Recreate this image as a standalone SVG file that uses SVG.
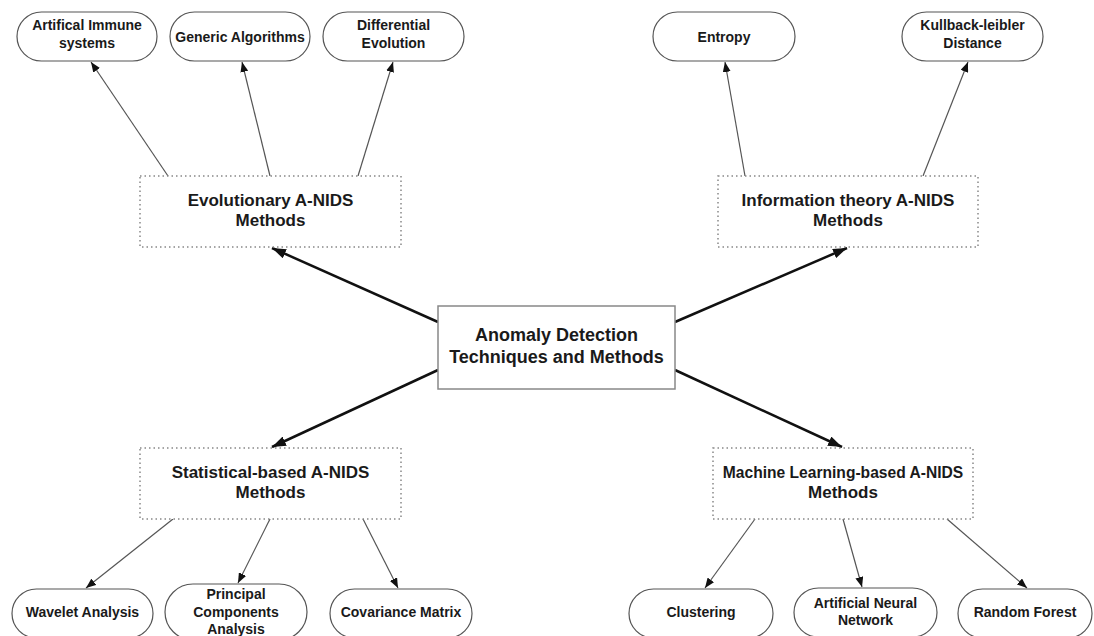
<svg xmlns="http://www.w3.org/2000/svg" width="1094" height="636" viewBox="0 0 1094 636">
<defs>
<style>
text{font-family:"Liberation Sans",Arial,sans-serif;font-weight:bold;fill:#1a1a1a;text-anchor:middle}
.t14{font-size:14px}
.t17{font-size:17px}
.t155{font-size:15.6px}
.t18{font-size:18px}
.pill{fill:#fff;stroke:#555;stroke-width:1.2}
.dot{fill:#fff;stroke:#888;stroke-width:1.5;stroke-dasharray:1.5 3}
.main{fill:#fff;stroke:#888;stroke-width:1.5}
.thick{stroke:#111;stroke-width:2.5;fill:none;marker-end:url(#ah)}
.thin{stroke:#555;stroke-width:1.2;fill:none;marker-end:url(#as)}
</style>
<marker id="ah" markerUnits="userSpaceOnUse" markerWidth="14" markerHeight="10" refX="14" refY="5" orient="auto"><path d="M0,0 L14,5 L0,10 z" fill="#111"/></marker>
<marker id="as" markerUnits="userSpaceOnUse" markerWidth="10" markerHeight="8" refX="10" refY="4" orient="auto"><path d="M0,0 L10,4 L0,8 z" fill="#111"/></marker>
</defs>
<rect width="1094" height="636" fill="#fff"/>
<g id="connectors">
<line class="thick" x1="438" y1="322" x2="272" y2="248"/>
<line class="thick" x1="675" y1="322" x2="847" y2="248"/>
<line class="thick" x1="438" y1="370" x2="272" y2="447"/>
<line class="thick" x1="675" y1="370" x2="842" y2="447"/>
<line class="thin" x1="168" y1="176" x2="91" y2="62"/>
<line class="thin" x1="270" y1="176" x2="242" y2="62"/>
<line class="thin" x1="358" y1="176" x2="393" y2="62"/>
<line class="thin" x1="745" y1="176" x2="725" y2="62"/>
<line class="thin" x1="923" y1="176" x2="968" y2="62"/>
<line class="thin" x1="173" y1="519" x2="86" y2="588"/>
<line class="thin" x1="270" y1="519" x2="238" y2="583"/>
<line class="thin" x1="363" y1="519" x2="398" y2="588"/>
<line class="thin" x1="755" y1="519" x2="705" y2="588"/>
<line class="thin" x1="843" y1="519" x2="862" y2="587"/>
<line class="thin" x1="947" y1="519" x2="1027" y2="588"/>
</g>
<g id="center">
<rect class="main" x="438" y="306" width="237" height="83"/>
<text class="t18" x="556.5" y="341">Anomaly Detection</text>
<text class="t18" x="556.5" y="363">Techniques and Methods</text>
</g>
<g id="evolutionary">
<rect class="dot" x="140" y="176" width="261" height="71"/>
<text class="t17" x="270.5" y="206">Evolutionary A-NIDS</text>
<text class="t17" x="270.5" y="226">Methods</text>
</g>
<g id="information">
<rect class="dot" x="718" y="176" width="260" height="71"/>
<text class="t17" x="848" y="206">Information theory A-NIDS</text>
<text class="t17" x="848" y="226">Methods</text>
</g>
<g id="statistical">
<rect class="dot" x="140" y="448" width="261" height="71"/>
<text class="t17" x="270.5" y="478">Statistical-based A-NIDS</text>
<text class="t17" x="270.5" y="498">Methods</text>
</g>
<g id="machine">
<rect class="dot" x="713" y="448" width="260" height="71"/>
<text class="t155" x="843" y="478">Machine Learning-based A-NIDS</text>
<text class="t17" x="843" y="498">Methods</text>
</g>
<g id="ais">
<rect class="pill" x="17" y="12" width="140" height="49" rx="24.5"/>
<text class="t14" x="87" y="30">Artifical Immune</text>
<text class="t14" x="87" y="48">systems</text>
</g>
<g id="ga">
<rect class="pill" x="170" y="12" width="140" height="49" rx="24.5"/>
<text class="t14" x="240" y="41.5">Generic Algorithms</text>
</g>
<g id="de">
<rect class="pill" x="323" y="12" width="141" height="49" rx="24.5"/>
<text class="t14" x="393.5" y="30">Differential</text>
<text class="t14" x="393.5" y="48">Evolution</text>
</g>
<g id="entropy">
<rect class="pill" x="653" y="12" width="142" height="49" rx="24.5"/>
<text class="t14" x="724" y="41.5">Entropy</text>
</g>
<g id="kl">
<rect class="pill" x="902" y="12" width="141" height="49" rx="24.5"/>
<text class="t14" x="972.5" y="30">Kullback-leibler</text>
<text class="t14" x="972.5" y="48">Distance</text>
</g>
<g id="wavelet">
<rect class="pill" x="12" y="589" width="141" height="49" rx="24.5"/>
<text class="t14" x="82.5" y="617">Wavelet Analysis</text>
</g>
<g id="pca">
<rect class="pill" x="165" y="584" width="142" height="56" rx="28"/>
<text class="t14" x="236" y="599">Principal</text>
<text class="t14" x="236" y="617">Components</text>
<text class="t14" x="236" y="634">Analysis</text>
</g>
<g id="covariance">
<rect class="pill" x="330" y="589" width="142" height="49" rx="24.5"/>
<text class="t14" x="401" y="617">Covariance Matrix</text>
</g>
<g id="clustering">
<rect class="pill" x="629" y="589" width="144" height="49" rx="24.5"/>
<text class="t14" x="701" y="617">Clustering</text>
</g>
<g id="ann">
<rect class="pill" x="794" y="588" width="143" height="49" rx="24.5"/>
<text class="t14" x="865.5" y="608">Artificial Neural</text>
<text class="t14" x="865.5" y="625">Network</text>
</g>
<g id="rf">
<rect class="pill" x="958" y="589" width="134" height="49" rx="24.5"/>
<text class="t14" x="1025" y="617">Random Forest</text>
</g>
</svg>
